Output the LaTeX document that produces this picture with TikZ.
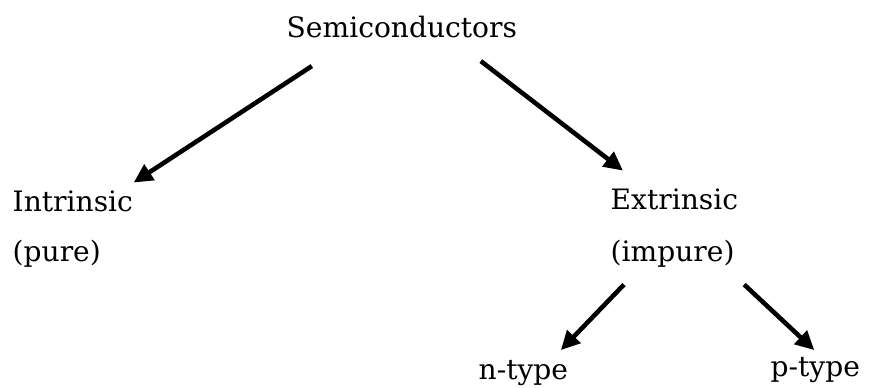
\documentclass[tikz,border=0pt]{standalone}
\usepackage{fontspec}
\setmainfont{DejaVu Serif}
\usetikzlibrary{arrows.meta}

\begin{document}
\begin{tikzpicture}[
        lbl/.style={inner sep=0pt, anchor=base west, font=\fontsize{8}{10}\selectfont},
        arr/.style={-{Triangle[length=1.9mm, width=1.8mm]}, line width=1.3pt, black}
    ]
    \useasboundingbox (0,0) rectangle (8.79,3.88);

    % Row 1: root
    \node[lbl] (semi)   at (2.86,3.50) {Semiconductors};

    % Row 2: the two kinds
    \node[lbl] (intr)   at (0.12,1.76) {Intrinsic};
    \node[lbl] (pure)   at (0.12,1.26) {(pure)};
    \node[lbl] (extr)   at (6.10,1.78) {Extrinsic};
    \node[lbl] (impure) at (6.10,1.26) {(impure)};

    % Row 3: doped types
    \node[lbl] (ntype)  at (4.78,0.08) {n-type};
    \node[lbl] (ptype)  at (7.70,0.11) {p-type};

    % Arrows: root to kinds
    \draw[arr] ([shift={(-0.90,-0.27)}]semi.south) -- ([yshift=0.08cm]intr.north east);
    \draw[arr] ([shift={(0.79,-0.22)}]semi.south) -- ([shift={(0.13,0.18)}]extr.north west);

    % Arrows: extrinsic to types
    \draw[arr] ([shift={(0.14,-0.16)}]impure.south west) -- ([shift={(-0.08,0.10)}]ntype.north east);
    \draw[arr] ([shift={(0.09,-0.16)}]impure.south east) -- ([shift={(-0.01,0.07)}]ptype.north);
\end{tikzpicture}
\end{document}
